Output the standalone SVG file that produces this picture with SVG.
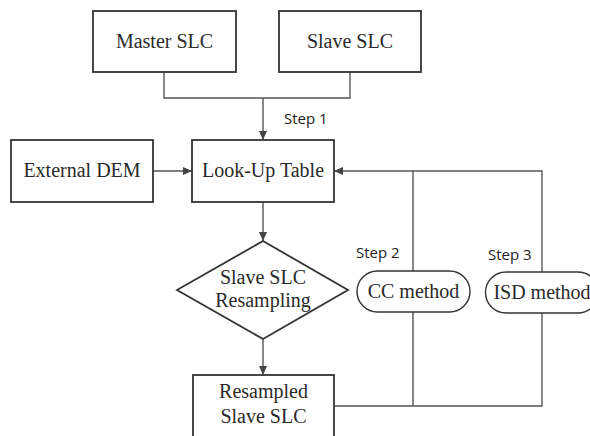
<svg xmlns="http://www.w3.org/2000/svg" width="590" height="436" viewBox="0 0 590 436">
<style>
.box{fill:#fff;stroke:#333;stroke-width:1.8}
.lbl{font-family:"Liberation Serif","Times New Roman",serif;font-size:20px;fill:#2a2a2a;text-anchor:middle}
.step{font-family:"Open Sans","Liberation Sans",sans-serif;font-size:15px;fill:#222}
.con{fill:none;stroke:#555;stroke-width:1.4}
</style>
<defs>
<marker id="arr" markerWidth="10" markerHeight="10" refX="9" refY="5" orient="auto" markerUnits="userSpaceOnUse">
<path d="M0,1 L9,5 L0,9 Z" fill="#444"/>
</marker>
</defs>
<rect width="590" height="436" fill="#fff"/>
<g id="connectors">
<path class="con" d="M164,72 V98 H350 V72"/>
<path class="con" d="M263,98 V140" marker-end="url(#arr)"/>
<path class="con" d="M153,171 H192" marker-end="url(#arr)"/>
<path class="con" d="M542,272 V171 H334" marker-end="url(#arr)"/>
<path class="con" d="M413,271 V171"/>
<path class="con" d="M263,202 V241" marker-end="url(#arr)"/>
<path class="con" d="M263,339 V375" marker-end="url(#arr)"/>
<path class="con" d="M334,406 H542 V313"/>
<path class="con" d="M413,406 V312"/>
<text class="step" x="284" y="124">Step 1</text>
<text class="step" x="356" y="258">Step 2</text>
<text class="step" x="488" y="260">Step 3</text>
</g>
<g id="master">
<rect class="box" x="93" y="11" width="143" height="61"/>
<text class="lbl" x="164.5" y="48">Master SLC</text>
</g>
<g id="slave">
<rect class="box" x="279" y="11" width="142" height="61"/>
<text class="lbl" x="350" y="48">Slave SLC</text>
</g>
<g id="dem">
<rect class="box" x="11" y="140" width="142" height="62"/>
<text class="lbl" x="82" y="177">External DEM</text>
</g>
<g id="lut">
<rect class="box" x="192" y="140" width="142" height="62"/>
<text class="lbl" x="263" y="177">Look-Up Table</text>
</g>
<g id="resampling">
<polygon class="box" points="177,290 263,241 348,290 263,339"/>
<text class="lbl" x="263" y="284">Slave SLC</text>
<text class="lbl" x="263" y="307">Resampling</text>
</g>
<g id="cc">
<rect class="box" x="357" y="271" width="113" height="41" rx="20.5" ry="20.5" style="stroke-width:1.4"/>
<text class="lbl" x="413.5" y="298">CC method</text>
</g>
<g id="isd">
<rect class="box" x="485.5" y="272" width="113" height="41" rx="20.5" ry="20.5" style="stroke-width:1.4"/>
<text class="lbl" x="542" y="299">ISD method</text>
</g>
<g id="resampled">
<rect class="box" x="193" y="375" width="141" height="70"/>
<text class="lbl" x="263.5" y="398">Resampled</text>
<text class="lbl" x="263.5" y="423">Slave SLC</text>
</g>
</svg>
